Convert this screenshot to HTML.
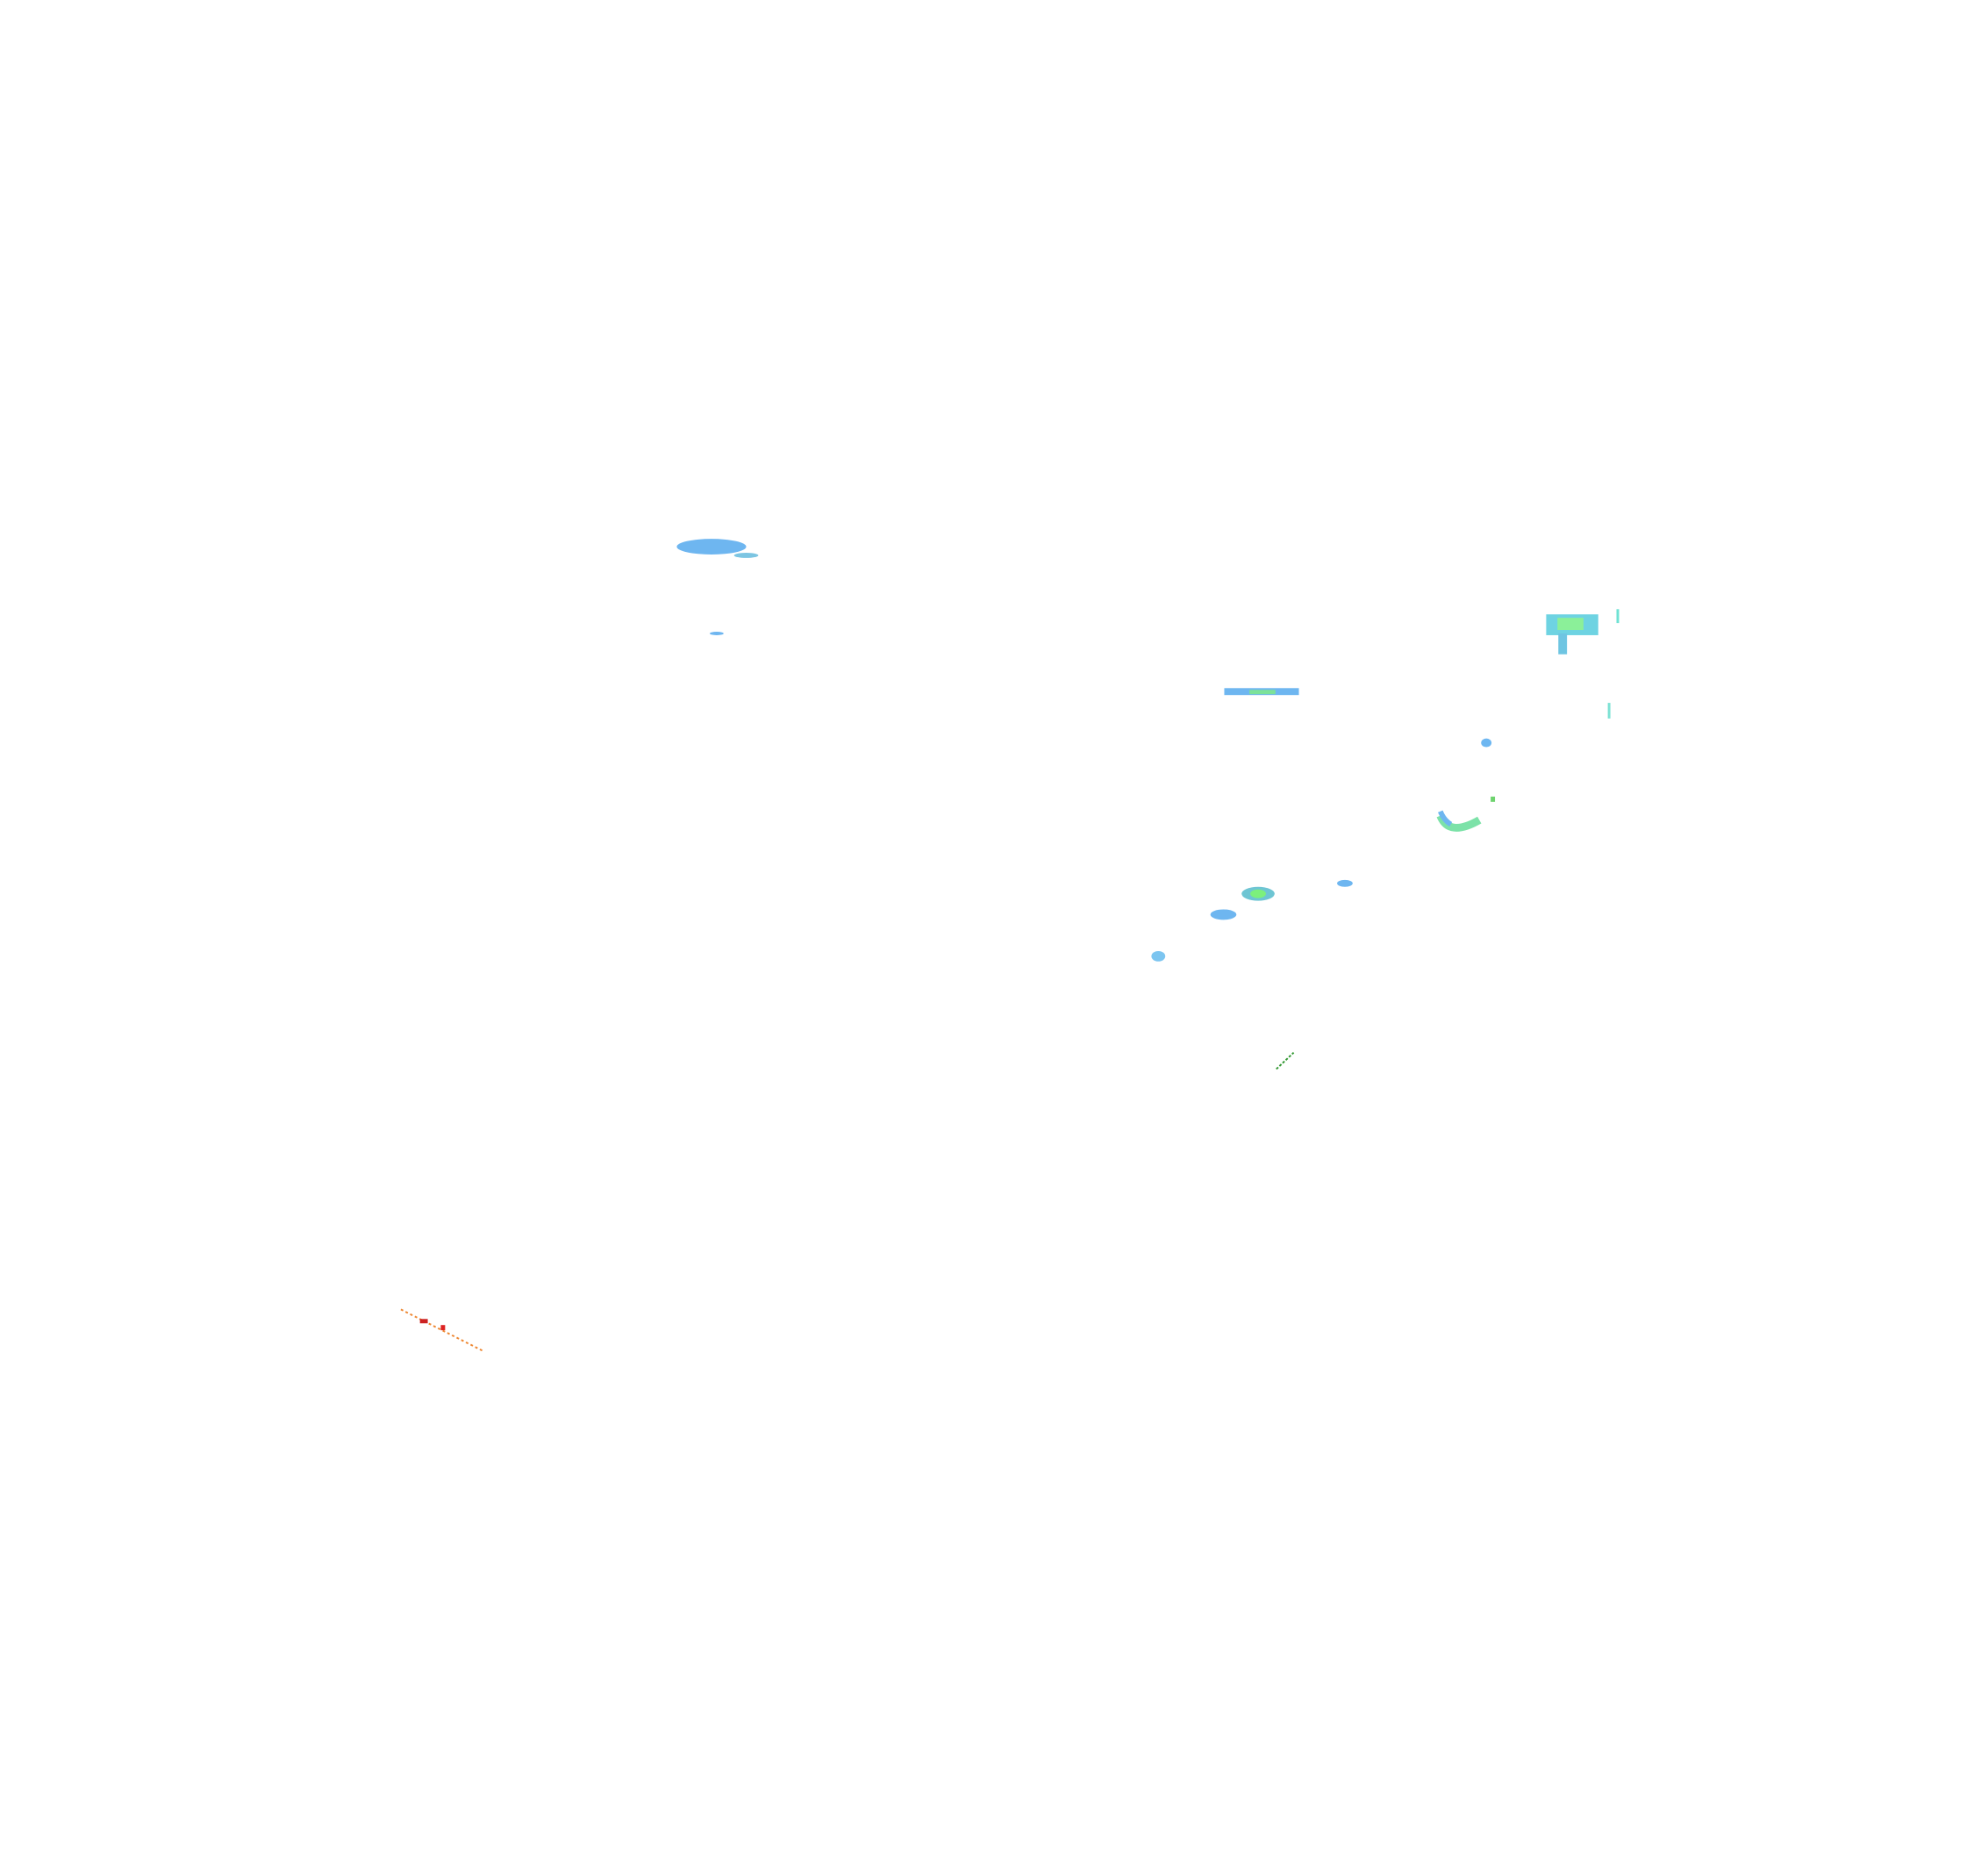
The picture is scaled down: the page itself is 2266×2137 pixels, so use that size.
<!DOCTYPE html>
<html><head><meta charset="utf-8"><style>
html,body{margin:0;padding:0;background:#fff;width:2266px;height:2137px;overflow:hidden}
svg{position:absolute;left:0;top:0}
</style></head><body>
<svg width="2266" height="2137" viewBox="0 0 2266 2137">
<g transform="scale(0.989)">
<g opacity="0.85">
<ellipse cx="820" cy="630" rx="40" ry="9" fill="#55aaee"/>
<ellipse cx="860" cy="640" rx="14" ry="3" fill="#66bbdd"/>
<ellipse cx="826" cy="730" rx="8" ry="2" fill="#55aaee"/>
<rect x="1411" y="793" width="86" height="8" fill="#55aaee"/>
<rect x="1440" y="795" width="30" height="5" fill="#66dd88"/>
<rect x="1782" y="708" width="60" height="24" fill="#55ccdd"/>
<rect x="1795" y="712" width="30" height="14" fill="#77ee88"/>
<rect x="1796" y="730" width="10" height="24" fill="#55bbdd"/>
<rect x="1863" y="702" width="3" height="16" fill="#55ddcc"/>
<rect x="1853" y="810" width="3" height="18" fill="#66ddcc"/>
<ellipse cx="1713" cy="856" rx="6" ry="5" fill="#55aaee"/>
<path d="M1660 940 Q1670 965 1705 945" stroke="#66dd99" stroke-width="9" fill="none"/>
<path d="M1660 935 Q1664 945 1672 950" stroke="#55aaee" stroke-width="6" fill="none"/>
<rect x="1718" y="918" width="5" height="6" fill="#55cc55"/>
<ellipse cx="1450" cy="1030" rx="19" ry="8" fill="#55bbcc"/>
<ellipse cx="1450" cy="1030" rx="9" ry="5" fill="#66ee66"/>
<ellipse cx="1410" cy="1054" rx="15" ry="6" fill="#55aaee"/>
<ellipse cx="1550" cy="1018" rx="9" ry="4" fill="#55aaee"/>
<ellipse cx="1335" cy="1102" rx="8" ry="6" fill="#66bbee"/>
</g>
<line x1="1471" y1="1232" x2="1491" y2="1213" stroke="#339933" stroke-width="2" stroke-dasharray="3,2"/>
<line x1="462" y1="1509" x2="557" y2="1557" stroke="#ee8833" stroke-width="2" stroke-dasharray="3,3"/>
<rect x="484" y="1520" width="9" height="5" fill="#cc2222"/>
<rect x="508" y="1527" width="5" height="6" fill="#dd2222"/>
</g>
</svg>
</body></html>
